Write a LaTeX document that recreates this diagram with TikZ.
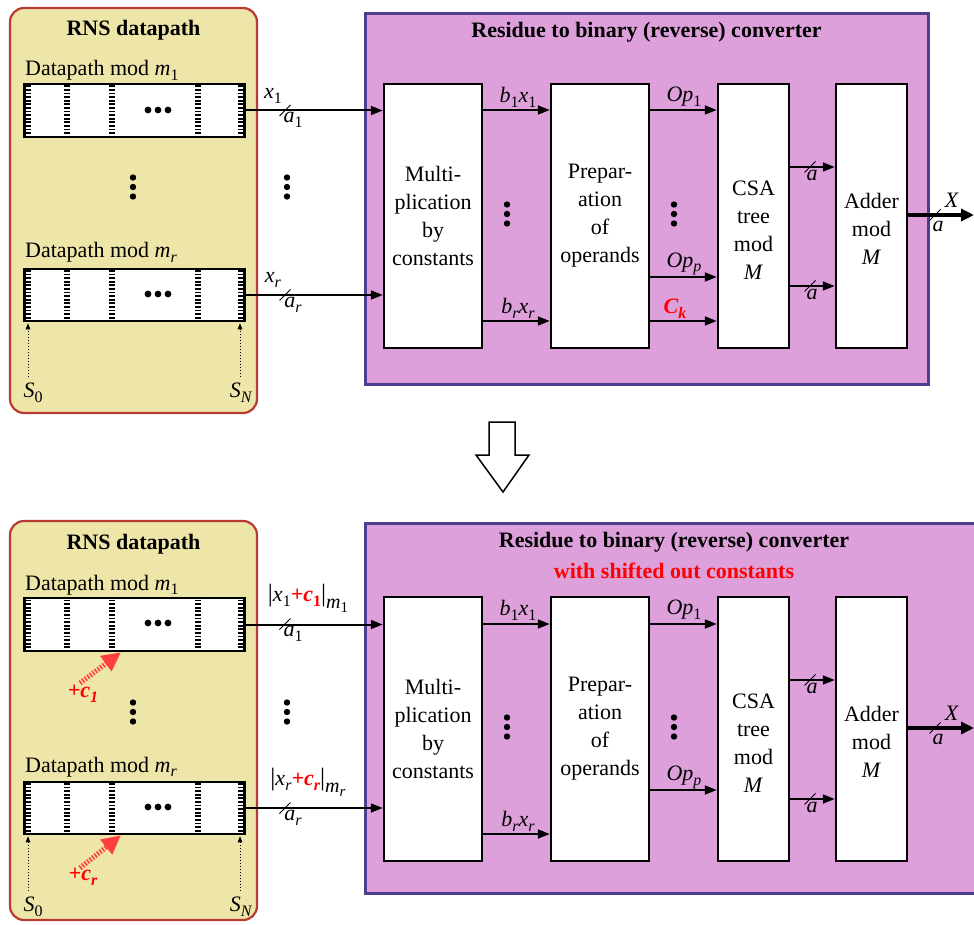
\documentclass[tikz,border=0pt]{standalone}
\usepackage{fontspec}
\setmainfont{Liberation Serif}
\usetikzlibrary{arrows.meta,calc}
\definecolor{dpfill}{HTML}{EEE6A9}
\definecolor{dpborder}{HTML}{B83A33}
\definecolor{cvfill}{HTML}{DDA0DB}
\definecolor{cvborder}{HTML}{4E3F8E}
\definecolor{redarr}{HTML}{FF3E3E}
\newcommand{\sbs}[1]{\raisebox{-0.22em}{\fontsize{16}{16}\selectfont #1}}
\newcommand{\vi}[1]{\textit{#1}}
\newcommand{\vs}[2]{\textit{#1}\sbs{#2}}
\newcommand{\bbar}{{\fontsize{25}{25}\selectfont|}}
\newcommand{\slashat}[2]{\draw[slashmark] (#1-5.5,#2+5.5) -- (#1+5.5,#2-5.5);}
\newcommand{\vdotsat}[2]{\fill (#1,#2-9.5) circle (3.2); \fill (#1,#2) circle (3.2); \fill (#1,#2+9.5) circle (3.2);}
\newcommand{\hdotsat}[2]{\fill (#1-10,#2) circle (3.4); \fill (#1,#2) circle (3.4); \fill (#1+10,#2) circle (3.4);}
\tikzset{
  every node/.style={font=\fontsize{22}{28}\selectfont, inner sep=0pt},
  dpbox/.style={fill=dpfill, draw=dpborder, line width=2.2pt, rounded corners=14pt},
  cvbox/.style={fill=cvfill, draw=cvborder, line width=3pt},
  blk/.style={draw, fill=white, line width=2.5pt, align=center, minimum height=264pt},
  reg/.style={draw, fill=white, line width=2.5pt, minimum width=220pt},
  hatch/.style={line width=6pt, dash pattern=on 1.8pt off 1.8pt},
  bus/.style={line width=2pt, -{Triangle[length=12pt,width=9pt]}},
  outbus/.style={line width=4.5pt, -{Triangle[length=13pt,width=12pt]}},
  slashmark/.style={line width=1pt},
  dotarr/.style={line width=1pt, dotted, -{Triangle[length=6pt,width=4.5pt]}},
  redarrow/.style={draw=redarr, line width=5pt, dash pattern=on 1.6pt off 1.6pt, -{Triangle[length=19pt,width=18pt,fill=redarr]}},
  redtxt/.style={text=red, font=\fontsize{22}{28}\selectfont\bfseries\itshape},
}
\begin{document}
\begin{tikzpicture}[x=1pt,y=-1pt]
\useasboundingbox (0,0) rectangle (974,925);
% ================= TOP =================
\draw[dpbox] (10,8) rectangle (257,413);
\draw[cvbox] (365,14) rectangle (928,384);
\node (rnsA) at (133.5,30) {\textbf{RNS datapath}};
\node (cvA) at (646.5,32) {\textbf{Residue to binary (reverse) converter}};
\node[anchor=base west] (dlA1) at (25,76) {Datapath mod \vs{m}{1}};
\node[reg, minimum height=53pt] (rA1) at (134.5,110.5) {};
\node[anchor=base west] (dlAr) at (25,258) {Datapath mod \vs{m}{\vi{r}}};
\node[reg, minimum height=52pt] (rAr) at (134.5,295) {};
\foreach \xx in {28,67,112,198,241} {
  \draw[hatch] (\xx,85.5) -- (\xx,135.5);
  \draw[hatch] (\xx,270) -- (\xx,320);
}
\hdotsat{158}{110}
\hdotsat{158}{294}
\vdotsat{133}{187}
\vdotsat{287}{187}
\node (s0A) at (33,393) {\vs{S}{0}};
\node (snA) at (241,393) {\vs{S}{\vi{N}}};
\draw[dotarr] ([xshift=-5pt,yshift=6pt]s0A.north) -- ([xshift=-5pt,yshift=-1pt]s0A.north |- rAr.south);
\draw[dotarr] ([xshift=-1pt,yshift=6pt]snA.north) -- ([xshift=-1pt,yshift=-1pt]snA.north |- rAr.south);
% blocks
\node[blk, minimum width=98pt] (bA1) at (433,216) {Multi-\\plication\\by\\constants};
\node[blk, minimum width=98pt] (bA2) at (600,216) {Prepar-\\ation\\of\\operands};
\node[blk, minimum width=71pt] (bA3) at (753.5,216) {};
\node[blk, minimum width=71pt] (bA4) at (871.5,216) {};
\node[align=center] (tA3) at (753.5,230) {CSA\\tree\\mod\\\vi{M}};
\node[align=center] (tA4) at (871.5,229) {Adder\\mod\\\vi{M}};
\vdotsat{507}{214}
\vdotsat{674}{214}
% buses
\draw[bus] (rA1.east) -- (rA1.east -| bA1.west);
\draw[bus] (rAr.east) -- (rAr.east -| bA1.west);
\node (xA1) at (273,96) {\vs{x}{1}};
\node (aA1) at (293,120) {\vs{a}{1}};
\slashat{285}{110.5}
\node (xAr) at (273,280) {\vs{x}{\vi{r}}};
\node (aAr) at (293,305) {\vs{a}{\vi{r}}};
\slashat{285}{295}
\draw[bus] (bA1.east |- 0,110) -- (bA2.west |- 0,110);
\draw[bus] (bA1.east |- 0,321) -- (bA2.west |- 0,321);
\node (bxA1) at (518,97) {\vs{b}{1}\vs{x}{1}};
\node (bxAr) at (518,308) {\vs{b}{\vi{r}}\vs{x}{\vi{r}}};
\draw[bus] (bA2.east |- 0,110) -- (bA3.west |- 0,110);
\draw[bus] (bA2.east |- 0,277) -- (bA3.west |- 0,277);
\draw[bus] (bA2.east |- 0,321) -- (bA3.west |- 0,321);
\node (opA1) at (684,97) {\vs{Op}{1}};
\node (opAp) at (684,264) {\vs{Op}{\vi{p}}};
\node[redtxt] (ckA) at (675,309) {C\sbs{k}};
\draw[bus] (bA3.east |- 0,167) -- (bA4.west |- 0,167);
\draw[bus] (bA3.east |- 0,286) -- (bA4.west |- 0,286);
\slashat{810}{167}
\slashat{810}{286}
\node (aA3a) at (812,175) {\vi{a}};
\node (aA3b) at (812,294) {\vi{a}};
\coordinate (oA) at (974,215);
\draw[outbus] (bA4.east |- oA) -- (oA);
\slashat{935}{215}
\node (XA) at (952,200) {\vi{X}};
\node (aAo) at (938,226) {\vi{a}};
% ================= ARROW =================
\draw[line width=1.5pt, fill=white] (489,422) -- (515,422) -- (515,455) -- (529,455) -- (503,492) -- (476,455) -- (489,455) -- cycle;
% ================= BOTTOM =================
\draw[dpbox] (10,521) rectangle (257,920);
\draw[cvbox] (365,523) rectangle (983,893);
\node (rnsB) at (133.5,544) {\textbf{RNS datapath}};
\node (cvB) at (674,542) {\textbf{Residue to binary (reverse) converter}};
\node[text=red] (cvB2) at (674,571) {\textbf{with shifted out constants}};
\node[anchor=base west] (dlB1) at (25,590) {Datapath mod \vs{m}{1}};
\node[reg, minimum height=53pt] (rB1) at (134.5,624.5) {};
\node[anchor=base west] (dlBr) at (25,772) {Datapath mod \vs{m}{\vi{r}}};
\node[reg, minimum height=52pt] (rBr) at (134.5,808) {};
\foreach \xx in {28,67,112,198,241} {
  \draw[hatch] (\xx,599.5) -- (\xx,649.5);
  \draw[hatch] (\xx,783) -- (\xx,833);
}
\hdotsat{158}{623}
\hdotsat{158}{807}
\vdotsat{133}{712}
\vdotsat{287}{712}
\node (s0B) at (33,907) {\vs{S}{0}};
\node (snB) at (241,907) {\vs{S}{\vi{N}}};
\draw[dotarr] ([xshift=-5pt,yshift=6pt]s0B.north) -- ([xshift=-5pt,yshift=-1pt]s0B.north |- rBr.south);
\draw[dotarr] ([xshift=-1pt,yshift=6pt]snB.north) -- ([xshift=-1pt,yshift=-1pt]snB.north |- rBr.south);
% red constant arrows
\node[redtxt] (c1B) at (83,694) {+c\sbs{1}};
\node[redtxt] (crB) at (83,877) {+c\sbs{r}};
\coordinate (c1tail) at (80,683);
\coordinate (crtail) at (80,868);
\draw[redarrow] (c1tail) -- (rB1.south -| 121,0);
\draw[redarrow] (crtail) -- (rBr.south -| 121,0);
% blocks
\node[blk, minimum width=98pt] (bB1) at (433,729) {Multi-\\plication\\by\\constants};
\node[blk, minimum width=98pt] (bB2) at (600,729) {Prepar-\\ation\\of\\operands};
\node[blk, minimum width=71pt] (bB3) at (753.5,729) {};
\node[blk, minimum width=71pt] (bB4) at (871.5,729) {};
\node[align=center] (tB3) at (753.5,743) {CSA\\tree\\mod\\\vi{M}};
\node[align=center] (tB4) at (871.5,742) {Adder\\mod\\\vi{M}};
\vdotsat{507}{727}
\vdotsat{674}{727}
% buses
\draw[bus] (rB1.east) -- (rB1.east -| bB1.west);
\draw[bus] (rBr.east) -- (rBr.east -| bB1.west);
\node (xB1) at (308,598) {\bbar\vs{x}{1}\textcolor{red}{\textbf{\textit{+c}\sbs{1}}}\bbar\raisebox{-7pt}{\fontsize{20}{20}\selectfont\textit{m}\raisebox{-0.2em}{\fontsize{15}{15}\selectfont 1}}};
\node (aB1) at (293,634) {\vs{a}{1}};
\slashat{285}{624}
\node (xBr) at (308,782) {\bbar\vs{x}{\vi{r}}\textcolor{red}{\textbf{\textit{+c}\sbs{\textit{r}}}}\bbar\raisebox{-7pt}{\fontsize{20}{20}\selectfont\textit{m}\raisebox{-0.2em}{\fontsize{15}{15}\selectfont\textit{r}}}};
\node (aBr) at (293,818) {\vs{a}{\vi{r}}};
\slashat{285}{808}
\draw[bus] (bB1.east |- 0,624) -- (bB2.west |- 0,624);
\draw[bus] (bB1.east |- 0,834) -- (bB2.west |- 0,834);
\node (bxB1) at (518,610) {\vs{b}{1}\vs{x}{1}};
\node (bxBr) at (518,821) {\vs{b}{\vi{r}}\vs{x}{\vi{r}}};
\draw[bus] (bB2.east |- 0,624) -- (bB3.west |- 0,624);
\draw[bus] (bB2.east |- 0,790) -- (bB3.west |- 0,790);
\node (opB1) at (684,610) {\vs{Op}{1}};
\node (opBp) at (684,777) {\vs{Op}{\vi{p}}};
\draw[bus] (bB3.east |- 0,680) -- (bB4.west |- 0,680);
\draw[bus] (bB3.east |- 0,799) -- (bB4.west |- 0,799);
\slashat{810}{680}
\slashat{810}{799}
\node (aB3a) at (812,688) {\vi{a}};
\node (aB3b) at (812,807) {\vi{a}};
\coordinate (oB) at (974,728);
\draw[outbus] (bB4.east |- oB) -- (oB);
\slashat{935}{728}
\node (XB) at (952,713) {\vi{X}};
\node (aBo) at (938,739) {\vi{a}};
\end{tikzpicture}
\end{document}
